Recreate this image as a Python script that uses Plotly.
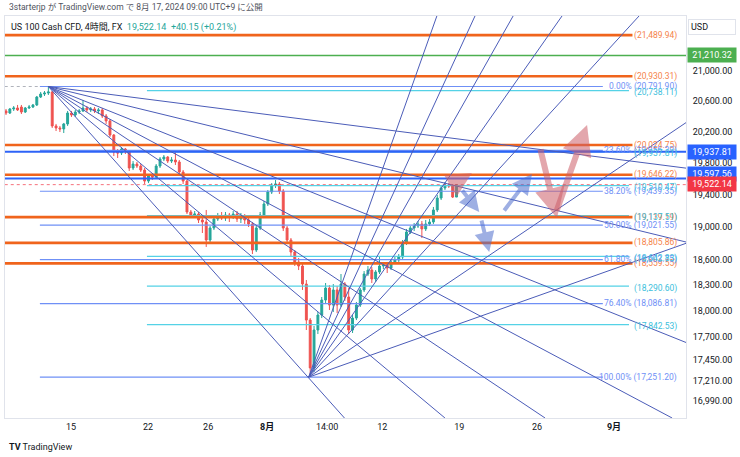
import math
import plotly.graph_objects as go

# ---------------- data ----------------
bar_index = list(range(118))
bar_open = [20468, 20441, 20494, 20507, 20520, 20454, 20507, 20520, 20547, 20652,
            20692, 20705, 20719, 20272, 20246, 20233, 20298, 20441, 20415, 20454,
            20468, 20507, 20481, 20494, 20468, 20481, 20402, 20337, 20154, 19935,
            19923, 19974, 19948, 19732, 19782, 19757, 19706, 19567, 19630, 19618,
            19757, 19846, 19871, 19820, 19833, 19808, 19681, 19567, 19182, 19145,
            19157, 19084, 19059, 18840, 18986, 19096, 19133, 19108, 19145, 19121,
            19157, 19096, 19133, 19084, 19035, 18719, 18986, 19145, 19281, 19430,
            19517, 19530, 19442, 18986, 18840, 18695, 18576, 18528, 18315, 17896,
            17354, 17782, 17954, 18128, 18268, 18070, 18245, 18070, 18315, 18163,
            17782, 17919, 18070, 18245, 18433, 18480, 18374, 18457, 18528, 18540,
            18504, 18576, 18600, 18635, 18804, 18937, 18986, 19010, 19035, 18974,
            19035, 19059, 19207, 19355, 19480, 19517, 19505, 19367]
bar_high = [20494, 20507, 20533, 20547, 20547, 20520, 20547, 20560, 20666, 20719,
            20732, 20791.9, 20732, 20298, 20272, 20311, 20468, 20468, 20481, 20494,
            20613, 20533, 20520, 20520, 20507, 20507, 20428, 20363, 20167, 19974,
            19999, 19987, 19961, 19820, 19808, 19782, 19732, 19656, 19668, 19782,
            19871, 19897, 19884, 19871, 19935, 19833, 19706, 19580, 19207, 19194,
            19182, 19121, 19207, 19010, 19133, 19170, 19182, 19182, 19170, 19194,
            19194, 19170, 19157, 19121, 19059, 19010, 19182, 19318, 19455, 19542,
            19580, 19555, 19467, 19010, 18864, 18719, 18624, 18552, 18362, 17919,
            17828, 17989, 18163, 18327, 18303, 18315, 18291, 18433, 18338, 18268,
            17954, 18105, 18268, 18468, 18528, 18516, 18480, 18635, 18576, 18576,
            18612, 18647, 18671, 18840, 18974, 19010, 19047, 19072, 19072, 19084,
            19096, 19244, 19392, 19505, 19555, 19542, 19530, 19530]
bar_low = [20415, 20428, 20468, 20468, 20428, 20441, 20494, 20507, 20533, 20639,
           20666, 20679, 20246, 20206, 20193, 20180, 20272, 20389, 20389, 20428,
           20454, 20454, 20454, 20441, 20428, 20376, 20298, 20129, 19884, 19859,
           19897, 19910, 19694, 19706, 19732, 19681, 19530, 19542, 19580, 19593,
           19732, 19820, 19795, 19795, 19770, 19656, 19530, 19157, 19108, 19108,
           19047, 18925, 18756, 18804, 18961, 19072, 19084, 19072, 19059, 19096,
           19059, 19047, 19035, 18998, 18671, 18695, 18961, 19121, 19256, 19405,
           19480, 19405, 18949, 18792, 18647, 18528, 18480, 18245, 17782, 17251.2,
           17309, 17736, 17919, 18093, 18012, 17989, 17977, 18047, 18117, 17736,
           17748, 17896, 18047, 18221, 18409, 18327, 18338, 18433, 18492, 18445,
           18480, 18552, 18576, 18612, 18780, 18913, 18949, 18986, 18864, 18949,
           19010, 19035, 19182, 19330, 19455, 19480, 19355, 19367]
bar_close = [20441, 20494, 20507, 20481, 20454, 20507, 20520, 20547, 20652, 20692,
             20705, 20719, 20272, 20246, 20233, 20298, 20441, 20415, 20454, 20468,
             20507, 20481, 20494, 20468, 20481, 20402, 20337, 20154, 19935, 19923,
             19974, 19948, 19732, 19782, 19757, 19706, 19567, 19630, 19618, 19757,
             19846, 19871, 19820, 19833, 19808, 19681, 19567, 19182, 19145, 19157,
             19084, 19059, 18840, 18986, 19096, 19133, 19108, 19145, 19121, 19157,
             19096, 19133, 19084, 19035, 18719, 18986, 19145, 19281, 19430, 19517,
             19530, 19442, 18986, 18840, 18695, 18576, 18528, 18315, 17896, 17354,
             17782, 17954, 18128, 18268, 18070, 18245, 18070, 18315, 18163, 17782,
             17919, 18070, 18245, 18433, 18480, 18374, 18457, 18528, 18540, 18504,
             18576, 18600, 18635, 18804, 18937, 18986, 19010, 19035, 18974, 19035,
             19059, 19207, 19355, 19480, 19517, 19505, 19367, 19522.14]

x_tick_pos = [16.9, 36.9, 52.5, 67.8, 83.4, 97.7, 117.7, 137.9, 157.9]
x_tick_text = ["15", "22", "26", "<b>8月</b>", "14:00", "12", "19", "26", "<b>9月</b>"]

y_tick_vals = [21000, 20600, 20200, 19800, 19400, 19000, 18600, 18300, 18000,
               17700, 17450, 17210, 16990]
y_range_prices = [16805, 21755]
x_range_bars = [-0.26, 176.6]

orange_levels = [21489.94, 20930.31, 20024.75, 19646.22, 19119.19, 18805.86, 18559.55]
fib_levels = [20791.90, 19956.29, 19439.35, 19021.55, 18603.75, 18086.81, 17251.20]
fib_names = ["0.00%", "23.60%", "38.20%", "50.00%", "61.80%", "76.40%", "100.00%"]
cyan_levels = [20738.11, 19937.81, 19510.47, 19137.51, 18642.83, 18290.60, 17842.53]
blue_levels = [19937.81, 19597.56]
green_level = 21210.32
last_price = 19522.14

fan_top_anchor = (11.0, 20791.90)
fan_top_end_bars = [176.6, 176.6, 176.6, 173.0, 140.0, 114.0, 87.9]
fan_top_end_prices = [19730, 18816, 17640, 16805, 16805, 16805, 16805]
fan_bottom_anchor = (78.6, 17251.20)
fan_bottom_end_bars = [111.9, 121.8, 131.7, 144.4, 164.4, 176.6, 176.6]
fan_bottom_end_prices = [21755, 21755, 21755, 21755, 21755, 20315, 18800]

# arrows: tail bar, tail price, head bar, head price, kind
arrows = [
    (116.6, 19542, 121.0, 19668, "red_s"),
    (118.2, 19467, 122.9, 19182, "blue"),
    (123.4, 19096, 125.5, 18695, "blue"),
    (129.1, 19182, 136.6, 19656, "blue"),
    (138.7, 19987, 143.1, 19108, "red"),
    (142.9, 19182, 150.9, 20284, "red"),
]

# ---------------- style ----------------
FONT = "Roboto, 'Noto Sans CJK JP', sans-serif"
C_ORANGE = "#f0641c"
C_ORANGE_T = "#f5834a"
C_FIB = "#6f90f6"
C_FIB_T = "#6f90f6"
C_CYAN = "#55d2e6"
C_CYAN_T = "#3cc0dc"
C_FAN = "#4b5cb8"
C_BLUE = "#2e63f7"
LABEL_X = 174.8

fig = go.Figure()

fig.add_trace(go.Candlestick(
    x=bar_index, open=bar_open, high=bar_high, low=bar_low, close=bar_close,
    increasing=dict(line=dict(color="#26a69a", width=1), fillcolor="#26a69a"),
    decreasing=dict(line=dict(color="#ef5350", width=1), fillcolor="#ef5350"),
    whiskerwidth=0, showlegend=False, hoverinfo="skip"))


def hline(levels, x0, x1, color, width, dash="solid"):
    xs, ys = [], []
    for lv in levels:
        xs += [x0, x1, None]
        ys += [lv, lv, None]
    fig.add_trace(go.Scatter(x=xs, y=ys, mode="lines",
                             line=dict(color=color, width=width, dash=dash),
                             showlegend=False, hoverinfo="skip"))


def fan(anchor, end_bars, end_prices):
    xs, ys = [], []
    for b, p in zip(end_bars, end_prices):
        xs += [anchor[0], b, None]
        ys += [anchor[1], p, None]
    fig.add_trace(go.Scatter(x=xs, y=ys, mode="lines",
                             line=dict(color=C_FAN, width=1),
                             showlegend=False, hoverinfo="skip"))


hline([last_price], -5, 200, "rgba(242,54,69,0.7)", 1, "dot")
hline([fib_levels[0]], -5, 8.8, "#b0b3bb", 1, "dot")
hline(cyan_levels, 36.6, 161.8, C_CYAN, 1.2)
hline(fib_levels, 8.8, 155.0, C_FIB, 1.2)
hline([green_level], -5, 200, "#4caf50", 1.5)
hline(blue_levels, -5, 200, C_BLUE, 2)
hline(orange_levels, -5, 162.7, C_ORANGE, 2.6)
fan(fan_top_anchor, fan_top_end_bars, fan_top_end_prices)
fan(fan_bottom_anchor, fan_bottom_end_bars, fan_bottom_end_prices)

ann = []


def lbl(price, text, color, yshift=0):
    ann.append(dict(x=LABEL_X, y=math.log10(price), xref="x", yref="y", text=text,
                    showarrow=False, xanchor="right", yanchor="middle", yshift=yshift,
                    font=dict(family=FONT, size=8.5, color=color)))


for lv in orange_levels:
    lbl(lv, "({:,.2f})".format(lv), C_ORANGE_T)
for lv, nm in zip(fib_levels, fib_names):
    lbl(lv, "{} ({:,.2f})".format(nm, lv), C_FIB_T)
for lv in cyan_levels:
    lbl(lv, "({:,.2f})".format(lv), C_CYAN_T, yshift=-2)

# arrows
arrow_style = {
    "red_s": dict(color="rgba(205,95,105,0.55)", w=5, s=1.0),
    "red": dict(color="rgba(205,95,105,0.55)", w=6, s=1.0),
    "blue": dict(color="rgba(80,110,205,0.55)", w=4, s=1.0),
}
for tb, tp, hb, hp, kind in arrows:
    st = arrow_style[kind]
    ann.append(dict(x=hb, y=math.log10(hp), ax=tb, ay=math.log10(tp),
                    xref="x", yref="y", axref="x", ayref="y", text="",
                    showarrow=True, arrowhead=2, arrowsize=st["s"],
                    arrowwidth=st["w"], arrowcolor=st["color"]))

# axis price boxes
for price, text, bg, ysh in [(green_level, "21,210.32", "#4caf50", 0),
                             (19937.81, "19,937.81", "#2962ff", 0),
                             (19597.56, "19,597.56", "#2962ff", 5),
                             (last_price, "19,522.14", "#f23645", 1)]:
    ann.append(dict(x=1, y=math.log10(price), xref="paper", yref="y", text=text,
                    showarrow=False, xanchor="left", yanchor="middle", yshift=ysh,
                    xshift=1, bgcolor=bg, borderpad=2, width=44, align="center",
                    font=dict(family=FONT, size=9, color="white")))

# USD box
ann.append(dict(x=1, y=1.0, xref="paper", yref="paper", text="USD", showarrow=False,
                xanchor="left", yanchor="top", xshift=2, yshift=-3, width=42,
                align="left", bordercolor="#e0e3eb", borderwidth=1, borderpad=2,
                font=dict(family=FONT, size=9, color="#131722")))

# header texts
ann.append(dict(x=0, y=1, xref="paper", yref="paper", xanchor="left", yanchor="bottom",
                xshift=2, yshift=2, showarrow=False,
                text="3starterjp が TradingView.com で 8月 17, 2024 09:00 UTC+9 に公開",
                font=dict(family=FONT, size=8.5, color="#50535e")))
ann.append(dict(x=0, y=1, xref="paper", yref="paper", xanchor="left", yanchor="top",
                xshift=4, yshift=-4, showarrow=False,
                text="US 100 Cash CFD, 4時間, FX  <span style='color:#26a69a'>19,522.14  +40.15 (+0.21%)</span>",
                font=dict(family=FONT, size=9, color="#131722")))
ann.append(dict(x=0, y=0, xref="paper", yref="paper", xanchor="left", yanchor="top",
                xshift=2, yshift=-22, showarrow=False,
                text="<b>TV</b> TradingView",
                font=dict(family=FONT, size=9, color="#131722")))

fig.update_layout(
    width=740, height=457,
    margin=dict(l=5, r=54, t=16, b=39),
    paper_bgcolor="white", plot_bgcolor="white",
    font=dict(family=FONT, size=9, color="#131722"),
    showlegend=False,
    annotations=ann,
    xaxis=dict(range=x_range_bars, tickvals=x_tick_pos, ticktext=x_tick_text,
               showgrid=False, zeroline=False, showline=True, linecolor="#e0e3eb",
               mirror=True, ticks="", rangeslider=dict(visible=False),
               tickfont=dict(size=9, color="#131722")),
    yaxis=dict(type="log", range=[math.log10(y_range_prices[0]), math.log10(y_range_prices[1])],
               side="right", tickvals=y_tick_vals,
               ticktext=["{:,.2f}".format(v) for v in y_tick_vals],
               showgrid=False, zeroline=False, showline=True, linecolor="#e0e3eb",
               mirror=True, ticks="", ticklabelstandoff=4,
               tickfont=dict(size=9, color="#131722")),
)

fig.write_html("out.html", config={"displayModeBar": False})
